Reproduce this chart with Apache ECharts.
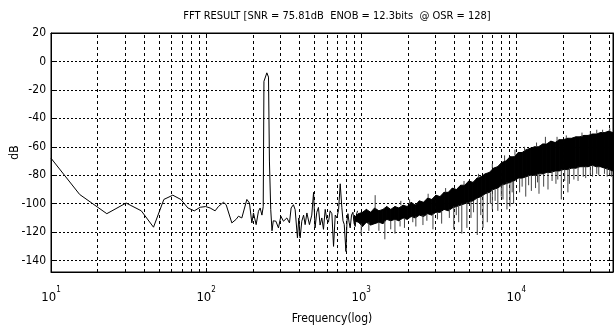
<!DOCTYPE html>
<html>
<head>
<meta charset="utf-8">
<script src="https://cdn.jsdelivr.net/npm/echarts@6/dist/echarts.min.js"></script>
<style>
  html, body { margin: 0; padding: 0; background: #fff; }
  #chart { width: 615px; height: 330px; }
</style>
</head>
<body>
<div id="chart"></div>
<script>
// spectrum: single trace below ~900 Hz
const lowFreq = [10, 15.3, 22.9, 30.5, 38.2, 45.8, 53.4, 61, 68.7, 76.3, 83.9, 91.6, 99.2, 106.1, 114.3, 120,
  129.3, 134.6, 146.5, 156.1, 161.6, 169.9, 183.1, 190.3, 197.2, 202, 210.2, 217.5, 223, 229, 233.5, 236,
  246.4, 252.5, 256, 261, 266, 271, 281.7, 292.7, 303.4, 315.3, 331.6, 344.7, 353.2, 365.6, 375, 388, 396,
  403.7, 414, 425, 435, 446.4, 463.6, 480, 493, 504, 517, 530, 543, 557, 571, 586, 600, 615, 630, 647, 663,
  680, 697, 715, 732, 750, 763, 777, 797, 810, 821, 835, 849, 866, 884, 900, 915, 930, 947]
const lowDb = [-68, -93.5, -107, -99.5, -105, -116.5, -97, -94, -97, -103, -105, -102.5, -102, -103, -105, -102,
  -99, -100.7, -113.5, -111, -108.8, -110, -97, -99.5, -113.5, -106.5, -114.7, -105.3, -103, -108, -102, -14,
  -8, -11, -70, -104, -119, -112, -112.3, -117, -108.8, -112.3, -110, -113.5, -103, -100.7, -104.2, -124, -110,
  -124, -112.3, -108, -114.7, -106.5, -114.7, -108, -92, -117, -106, -102.6, -115, -110, -118, -104, -111, -113, -105, -107, -130,
  -108, -110, -104, -86, -102.6, -112, -114.5, -133.6, -112, -107, -113, -117, -108, -106, -114, -116, -108, -105]

// dense noise band above ~900 Hz: upper and lower edge
const bandFreq = [900, 960, 1020, 1080, 1150, 1220, 1300, 1380, 1460, 1550, 1650, 1750, 1860, 1980, 2100, 2230,
  2370, 2520, 2680, 2850, 3030, 3220, 3420, 3640, 3870, 4110, 4370, 4650, 4940, 5250, 5580, 5930, 6300, 6700,
  7120, 7570, 8050, 8560, 9100, 9670, 10300, 10900, 11600, 12300, 13100, 13900, 14800, 15700, 16700, 17800,
  18900, 20100, 21400, 22700, 24200, 25700, 27300, 29000, 30900, 32800, 34900, 37100, 39400, 42000]
const bandTop = [-110, -107, -106, -104, -106, -103, -105, -104, -102, -104, -102, -103, -101, -102, -99, -101,
  -98, -99, -96, -97, -94, -95, -92, -92, -89, -90, -87, -87, -84, -85, -82, -81, -79, -78,
  -75, -74, -71, -70, -67, -67, -64, -64, -62, -61, -60, -60, -58, -58, -56, -57,
  -55, -55, -54, -54, -53, -53, -52, -52, -51, -51, -50, -50, -49, -50]
const bandBottom = [-112, -113, -116, -113, -115, -114, -113, -114, -111, -112, -111, -112, -110, -111, -109, -110,
  -108, -109, -107, -108, -106, -106, -104, -105, -103, -102, -101, -100, -99, -98, -96, -95, -93, -92,
  -90, -89, -87, -86, -85, -84, -82, -82, -81, -80, -80, -79, -79, -78, -78, -77,
  -77, -76, -76, -75, -75, -74, -74, -74, -73, -74, -74, -75, -76, -77]

// single bins sticking out of the band
const spikeFreq = [1000, 1120, 1230, 1420, 1650, 1900, 2050, 2250, 2500, 2900, 3300, 3500, 3950, 4250, 4450, 4800,
  5100, 5600, 6100, 6500, 7000, 7600, 8200, 8700, 9100, 9600, 9800, 10500, 11500, 12500, 13300, 14000, 15400,
  16000, 18000, 19500, 22000, 25000, 26500, 28000, 31000, 34000, 36000, 37000, 40000,
  1300, 1550, 1780, 2150, 2650, 3100, 3700, 4100, 5300, 5900, 6800, 7300, 8000, 9400, 10900, 12000, 13700,
  15000, 17000, 18500, 20500, 21500, 23500, 27000, 30000, 33000, 38500, 41000,
  1800, 2700, 4600, 5700, 7000, 8400, 11300, 13500, 18300, 21000, 30000, 33000, 40000]
const spikeFrom = [-114, -113, -104, -112, -111, -110, -100, -109, -108, -107, -105, -92, -102, -101, -100, -99,
  -98, -96, -94, -92, -90, -89, -86, -85, -85, -84, -66, -82, -81, -80, -80, -79, -58,
  -78, -77, -76, -75, -74, -53, -74, -73, -74, -50, -75, -76,
  -113, -112, -112, -109, -107, -106, -104, -102, -98, -95, -92, -90, -87, -84, -82, -80, -79,
  -79, -77, -77, -76, -76, -75, -74, -74, -74, -75, -77,
  -101, -96, -87, -82, -75, -70, -63, -60, -56, -54, -51, -51, -49]
const spikeTo = [-122, -119, -94, -125, -121, -117, -97, -116, -115, -118, -114, -89, -118, -113, -121, -117,
  -110, -122, -117, -113, -104, -105, -97, -104, -102, -100, -62, -92, -95, -91, -89, -93, -53,
  -90, -86, -97, -86, -84, -50, -82, -81, -80, -48, -79, -80,
  -119, -118, -116, -113, -112, -111, -110, -108, -106, -108, -100, -98, -95, -92, -88, -87, -85,
  -88, -84, -83, -84, -92, -83, -81, -80, -79, -81, -81,
  -98, -93, -84, -79, -72, -66, -60, -57, -53, -52, -49, -48, -47]

const xGrid = [20, 30, 40, 50, 60, 70, 80, 90, 100, 200, 300, 400, 500, 600, 700, 800, 900, 1000,
  2000, 3000, 4000, 5000, 6000, 7000, 8000, 9000, 10000, 20000, 30000, 40000]

const FONT = '"Liberation Sans Narrow", "DejaVu Sans Condensed", "Liberation Sans", sans-serif'

// band as a chain of quads between consecutive edge points
const bandData = []
for (let i = 0; i < bandFreq.length - 1; i++) {
  bandData.push([bandFreq[i], bandTop[i], bandBottom[i], bandFreq[i + 1], bandTop[i + 1], bandBottom[i + 1]])
}

const chart = echarts.init(document.getElementById('chart'))

const option = {
  animation: false,
  backgroundColor: '#fff',
  title: {
    text: 'FFT RESULT [SNR = 75.81dB  ENOB = 12.3bits  @ OSR = 128]',
    left: 332,
    textAlign: 'center',
    top: 6,
    textStyle: { fontFamily: FONT, fontSize: 11, fontWeight: 'normal', color: '#000' }
  },
  grid: {
    left: 51, right: 2, top: 33, bottom: 58,
    outerBoundsMode: 'none',
    containLabel: false,
    show: true, borderColor: '#000', borderWidth: 1
  },
  xAxis: [
    {
      type: 'log',
      logBase: 10,
      min: 10,
      max: 42000,
      name: 'Frequency(log)',
      nameLocation: 'middle',
      nameGap: 41,
      nameMoveOverlap: false,
      nameTextStyle: { fontFamily: FONT, fontSize: 12, color: '#000' },
      axisLine: { onZero: false, lineStyle: { color: '#000' } },
      axisTick: { inside: true, length: 4, lineStyle: { color: '#000' } },
      splitLine: { show: false },
      axisLabel: {
        margin: 14,
        showMaxLabel: false,
        formatter: v => '{b|10}{e|' + Math.round(Math.log10(v)) + '}',
        rich: {
          b: { fontFamily: FONT, fontSize: 13, color: '#000', lineHeight: 18, verticalAlign: 'bottom' },
          e: { fontFamily: FONT, fontSize: 8, color: '#000', lineHeight: 10, verticalAlign: 'top' }
        }
      }
    },
    {
      type: 'log', logBase: 10, min: 10, max: 42000, position: 'top',
      axisLine: { onZero: false, lineStyle: { color: '#000' } },
      axisTick: { inside: true, length: 4, lineStyle: { color: '#000' } },
      axisLabel: { show: false },
      splitLine: { show: false }
    }
  ],
  yAxis: [
    {
      type: 'value',
      min: -148,
      max: 20,
      splitNumber: 8,
      name: 'dB',
      nameLocation: 'middle',
      nameGap: 30,
      nameMoveOverlap: false,
      nameTextStyle: { fontFamily: FONT, fontSize: 12, color: '#000' },
      axisLine: { show: true, onZero: false, lineStyle: { color: '#000' } },
      axisTick: { show: true, inside: true, length: 4, lineStyle: { color: '#000' } },
      axisLabel: { showMinLabel: false, margin: 5, fontFamily: FONT, fontSize: 12, color: '#000' },
      splitLine: { show: true, lineStyle: { color: '#000', type: [2, 2], width: 1 } }
    },
    {
      type: 'value', min: -148, max: 20, splitNumber: 8, position: 'right',
      axisLine: { show: true, onZero: false, lineStyle: { color: '#000' } },
      axisTick: { show: true, inside: true, length: 4, lineStyle: { color: '#000' } },
      axisLabel: { show: false },
      splitLine: { show: false }
    }
  ],
  series: [
    {
      name: 'trace',
      type: 'line',
      data: lowFreq.map((f, i) => [f, lowDb[i]]),
      symbol: 'none',
      lineStyle: { color: '#000', width: 1 },
      z: 3,
      markLine: {
        silent: true,
        symbol: 'none',
        label: { show: false },
        lineStyle: { color: '#000', type: [3, 3], width: 1 },
        data: xGrid.map(v => ({ xAxis: v })),
        z: 1
      }
    },
    {
      name: 'band',
      type: 'custom',
      data: bandData,
      encode: { x: [0, 3], y: [1, 2, 4, 5] },
      z: 3,
      renderItem: (params, api) => {
        const a = api.coord([api.value(0), api.value(1)])
        const b = api.coord([api.value(3), api.value(4)])
        const c = api.coord([api.value(3), api.value(5)])
        const d = api.coord([api.value(0), api.value(2)])
        return {
          type: 'polygon',
          shape: { points: [a, b, c, d] },
          style: { fill: '#000', stroke: '#000', lineWidth: 1 }
        }
      }
    },
    {
      name: 'spikes',
      type: 'custom',
      data: spikeFreq.map((f, i) => [f, spikeFrom[i], spikeTo[i]]),
      encode: { x: 0, y: [1, 2] },
      z: 4,
      renderItem: (params, api) => {
        const p1 = api.coord([api.value(0), api.value(1)])
        const p2 = api.coord([api.value(0), api.value(2)])
        return {
          type: 'line',
          shape: { x1: p1[0], y1: p1[1], x2: p2[0], y2: p2[1] },
          style: { stroke: '#444', lineWidth: 1 }
        }
      }
    }
  ]
}

chart.setOption(option)
window.addEventListener('resize', () => chart.resize())
</script>
</body>
</html>
